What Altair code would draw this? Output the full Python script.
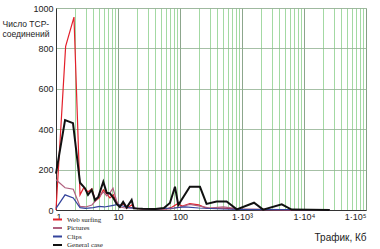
import altair as alt
import pandas as pd

# Web surfing
web_x = [1, 1.43, 1.95, 2.44, 2.8, 3.3, 3.8, 4.3, 5.0, 5.8, 6.6, 7.4, 8.4, 9.5, 10.7, 12, 14, 16.6, 19, 25, 40, 60, 75, 90, 110, 144, 200, 270, 400, 600, 900, 1500, 3000, 6000, 26000]
web_y = [0, 810, 955, 75, 110, 90, 105, 45, 60, 100, 80, 60, 75, 35, 20, 30, 10, 25, 8, 5, 4, 5, 15, 30, 20, 32, 25, 8, 10, 8, 3, 3, 2, 1, 0]

# Pictures
pic_x = [1, 1.4, 1.9, 2.44, 3.0, 3.8, 4.8, 5.8, 6.6, 7.4, 8.3, 9.5, 10.7, 13, 17, 25, 40, 70, 100, 144, 200, 300, 500, 1000, 3000, 26000]
pic_y = [150, 110, 103, 18, 15, 25, 60, 90, 70, 85, 108, 45, 15, 10, 12, 5, 4, 5, 15, 28, 20, 10, 15, 3, 2, 0]

# Clips
clip_x = [1, 1.4, 1.9, 2.44, 3.0, 4.0, 5.0, 6.0, 8.0, 10, 12, 15, 20, 40, 80, 120, 200, 500, 1000, 5000, 26000]
clip_y = [8, 75, 60, 12, 8, 12, 18, 15, 22, 28, 20, 12, 8, 6, 10, 15, 10, 5, 3, 2, 0]

# General case
gen_x = [1, 1.4, 1.88, 2.44, 2.93, 3.28, 3.76, 4.25, 4.81, 5.79, 6.57, 7.41, 8.39, 9.5, 10.7, 12.1, 13.8, 16.6, 18, 25, 40, 55, 68.8, 83, 93.8, 144, 210, 268, 389, 565, 824, 1563, 2192, 4376, 6297, 26000]
gen_y = [180, 445, 430, 135, 108, 75, 100, 50, 65, 140, 85, 82, 60, 30, 15, 40, 12, 50, 8, 6, 5, 10, 35, 115, 25, 115, 115, 30, 42, 42, 3, 36, 2, 28, 2, 0]

series_names = ["Web surfing", "Pictures", "Clips", "General case"]
series_colors = ["#e3202b", "#b0607e", "#34449c", "#111111"]

x_ticks = [m * 10 ** k for k in range(0, 5) for m in range(1, 10)] + [100000]
y_ticks = [0, 200, 400, 600, 800, 1000]

rows = []
for name, xs, ys in zip(series_names, [web_x, pic_x, clip_x, gen_x], [web_y, pic_y, clip_y, gen_y]):
    for i, (a, b) in enumerate(zip(xs, ys)):
        rows.append({"series": name, "x": a, "y": b, "order": i})
df = pd.DataFrame(rows)

label_expr = ("datum.value == 1 ? '1' : datum.value == 10 ? '10' : datum.value == 100 ? '100' : "
              "datum.value == 1000 ? '1·10³' : datum.value == 10000 ? '1·10⁴' : "
              "datum.value == 100000 ? '1·10⁵' : ''")

chart = alt.Chart(df).mark_line(interpolate="linear").encode(
    x=alt.X("x:Q",
            scale=alt.Scale(type="log", domain=[1, 100000], nice=False),
            axis=alt.Axis(values=x_ticks, labelExpr=label_expr, labelOverlap=False,
                          ticks=False, labelPadding=2, labelFontSize=9,
                          labelFont="Liberation Sans", labelColor="#222",
                          gridColor={"condition": {"test": "indexof([1,10,100,1000,10000,100000], datum.value) >= 0",
                                                   "value": "#6f8f6f"},
                                     "value": "#8ccf8c"},
                          gridWidth=0.8,
                          domainColor="#333",
                          title="Трафик, Кб", titleFont="Liberation Sans", titleFontSize=10,
                          titleFontWeight="normal", titleColor="#222",
                          titleAnchor="end", titleAlign="right", titleX=310, titleY=27,
                          titleBaseline="middle")),
    y=alt.Y("y:Q",
            scale=alt.Scale(domain=[0, 1000], nice=False),
            axis=alt.Axis(values=y_ticks, format="d", ticks=False, labelPadding=3, labelFontSize=9,
                          labelFont="Liberation Sans", labelColor="#222",
                          gridColor="#8fb08f", gridWidth=0.8, domainColor="#333",
                          title=["Число TCP-", "соединений"], titleAngle=0,
                          titleFont="Liberation Sans", titleFontSize=8.5, titleFontWeight="normal",
                          titleColor="#222", titleAlign="left", titleBaseline="top",
                          titleX=-54, titleY=11, titleLineHeight=10)),
    color=alt.Color("series:N",
                    scale=alt.Scale(domain=series_names, range=series_colors),
                    legend=alt.Legend(title=None, orient="none", legendX=-4, legendY=208,
                                      symbolType="stroke", symbolSize=81, symbolStrokeWidth=2,
                                      labelFont="Liberation Serif", labelFontSize=7,
                                      labelColor="#222", rowPadding=0.5, labelOffset=4,
                                      clipHeight=7, labelLimit=100)),
    strokeWidth=alt.condition(alt.datum.series == "General case", alt.value(2), alt.value(1.2)),
    order="order:Q",
).properties(
    width=310, height=202,
    padding={"left": 56, "top": 8, "right": 14, "bottom": 39},
    autosize=alt.AutoSizeParams(type="none"),
).configure_view(stroke="#333", strokeWidth=1).configure(background="white")

chart.save("out.html", embed_options={"renderer": "svg", "actions": False})
